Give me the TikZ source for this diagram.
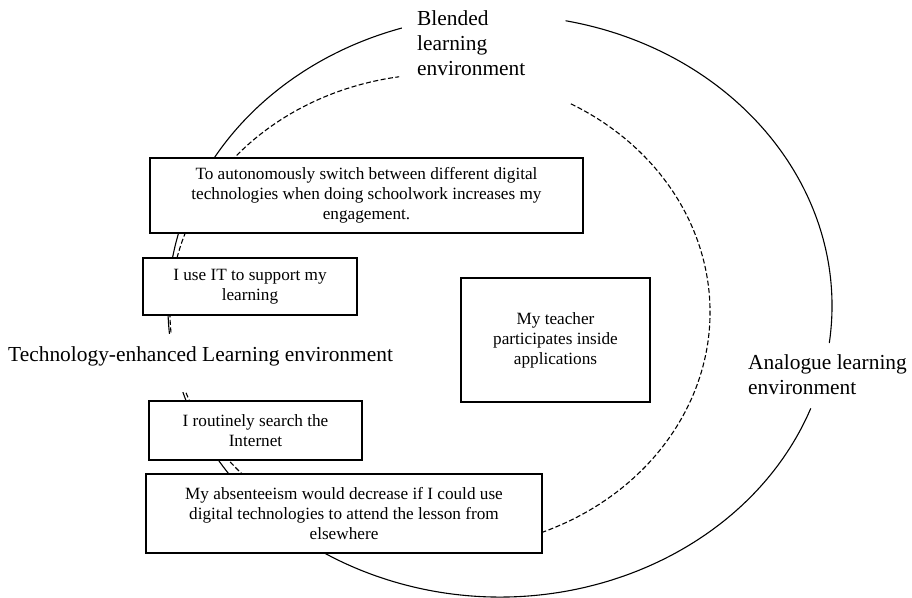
\documentclass[tikz,border=0pt]{standalone}
\usepackage{fontspec}
\setmainfont{Liberation Serif}

\begin{document}
\begin{tikzpicture}[
    x=1pt, y=1pt,
    ring/.style={line width=1.1pt, black},
    dashring/.style={line width=1.1pt, black, dash pattern=on 5pt off 2.5pt},
    statement/.style={draw, line width=1.4pt, fill=white, align=center, inner sep=0pt,
        font=\fontsize{17.2}{20}\selectfont},
    envlabel/.style={align=left, inner sep=0pt, font=\fontsize{21.4}{25}\selectfont}
]
\useasboundingbox (0,0) rectangle (912,-597);

% Circles
\coordinate (outerC) at (500,-306);
\coordinate (innerC) at (440,-312);
\draw [ring] (outerC) ++(78.6:332 and 291) arc[start angle=78.6, end angle=-7.3, x radius=332, y radius=291];
\draw [ring] (outerC) ++(-20.6:332 and 291) arc[start angle=-20.6, end angle=-252.8, x radius=332, y radius=291];
\draw [dashring] (innerC) ++(61:270 and 238) arc[start angle=61, end angle=-261.3, x radius=270, y radius=238];

% Labels
\node [envlabel, anchor=west] (blended) at (417,-43) {Blended\\learning\\environment};
\node [envlabel, anchor=west] (analogue) at (748,-375) {Analogue learning\\environment};
\node [envlabel, fill=white, anchor=base west, inner xsep=3pt, inner ysep=3pt,
    text height=24pt, text depth=28pt] (techenh) at (5,-361) {Technology-enhanced Learning environment};

% Boxes
\node [statement, minimum width=433, minimum height=75] (switch) at (366.5,-195.5)
    {To autonomously switch between different digital\\technologies when doing schoolwork increases my\\engagement.};
\node [statement, minimum width=214, minimum height=57] (useit) at (250,-286.5)
    {I use IT to support my\\learning};
\node [statement, minimum width=213, minimum height=59] (search) at (255.5,-430.5)
    {I routinely search the\\Internet};
\node [statement, minimum width=396, minimum height=79] (absent) at (344,-513.5)
    {My absenteeism would decrease if I could use\\digital technologies to attend the lesson from\\elsewhere};
\node [statement, minimum width=189, minimum height=124] (teacher) at (555.5,-340)
    {My teacher\\participates inside\\applications};

\end{tikzpicture}
\end{document}
